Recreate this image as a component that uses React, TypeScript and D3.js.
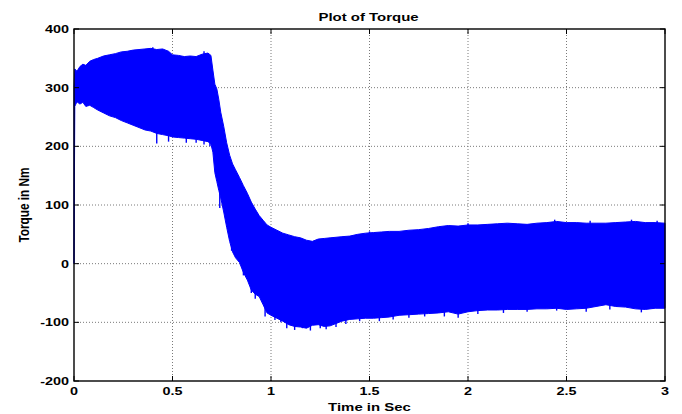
import React from "react";
import * as d3 from "d3";

const W = 682;
const H = 414;

const xTicks = [0, 0.5, 1, 1.5, 2, 2.5, 3];
const xTickLabels = ["0", "0.5", "1", "1.5", "2", "2.5", "3"];
const yTicks = [-200, -100, 0, 100, 200, 300, 400];
const yTickLabels = ["-200", "-100", "0", "100", "200", "300", "400"];

// envelope of the torque signal (s, Nm)
const time = [
  0, 0.004, 0.015, 0.03, 0.045, 0.06, 0.08, 0.1, 0.12, 0.15, 0.18, 0.21, 0.24, 0.27, 0.3, 0.33,
  0.36, 0.39, 0.42, 0.45, 0.48, 0.5, 0.53, 0.56, 0.59, 0.62, 0.65, 0.68, 0.695, 0.705, 0.715,
  0.725, 0.735, 0.745, 0.76, 0.775, 0.79, 0.805, 0.82, 0.84, 0.86, 0.88, 0.9, 0.92, 0.94, 0.96,
  0.98, 1.0, 1.03, 1.06, 1.09, 1.12, 1.15, 1.18, 1.21, 1.24, 1.27, 1.3, 1.33, 1.36, 1.4, 1.44,
  1.48, 1.52, 1.56, 1.6, 1.65, 1.7, 1.75, 1.8, 1.85, 1.9, 1.95, 2.0, 2.05, 2.1, 2.15, 2.2, 2.25,
  2.3, 2.35, 2.4, 2.45, 2.5, 2.55, 2.6, 2.65, 2.7, 2.75, 2.8, 2.85, 2.9, 2.95, 3.0,
];
const upper = [
  300, 332, 328, 336, 340, 338, 345, 348, 350, 354, 356, 358, 361, 362, 364, 365,
  366, 367, 365, 366, 362, 356, 355, 353, 354, 353, 357, 359, 355, 330, 306,
  298, 280, 258, 234, 206, 185, 170, 160, 147, 133, 120, 105, 93, 82, 74,
  66, 62, 57, 52, 49, 46, 44, 40, 38, 42, 43, 44, 45, 46, 47, 50,
  52, 53, 54, 55, 55, 57, 58, 60, 63, 65, 64, 66, 66, 67, 68, 69, 68,
  67, 69, 70, 72, 70, 70, 69, 69, 69, 70, 71, 72, 70, 70, 69,
];
const lower = [
  0, 268, 276, 272, 275, 268, 270, 266, 262, 257, 252, 249, 244, 240, 236, 232,
  228, 226, 222, 220, 218, 216, 215, 214, 213, 212, 210, 208, 204, 190, 155,
  140, 125, 112, 88, 62, 38, 20, 10, 2, -15, -28, -45, -52, -56, -70,
  -84, -88, -93, -98, -104, -107, -108, -110, -105, -104, -107, -106, -102, -98, -95, -94,
  -93, -93, -92, -91, -88, -87, -86, -85, -84, -82, -86, -82, -80, -79, -79, -78, -78,
  -78, -77, -77, -76, -78, -77, -76, -73, -70, -73, -74, -77, -78, -76, -76,
];

// isolated downward spikes (s, Nm)
const spikeTime = [
  0.42, 0.48, 0.57, 0.62, 0.66, 0.69, 0.74, 0.8, 0.86, 0.9, 0.92, 0.97, 1.02, 1.05, 1.08, 1.12,
  1.16, 1.2, 1.25, 1.28, 1.33, 1.38, 1.45, 1.55, 1.62, 1.7, 1.78, 1.88, 1.95, 2.05, 2.18, 2.3,
  2.45, 2.6, 2.72, 2.88,
];
const spikeValue = [
  205, 208, 206, 206, 203, 200, 95, 22, -20, -50, -60, -90, -96, -100, -110, -113,
  -110, -114, -110, -112, -108, -103, -98, -98, -95, -92, -90, -90, -92, -86, -84, -82,
  -80, -82, -78, -83,
];

// isolated upward spikes (s, Nm)
const peakTime = [0.4, 0.66, 1.5, 2.0, 2.44, 2.62, 2.83, 2.96];
const peakValue = [369, 362, 55, 69, 75, 73, 75, 73];

const M = { left: 74, right: 17, top: 29, bottom: 33 };
const FONT = "'Liberation Sans', Arial, Helvetica, sans-serif";
const SX = 1.31;

export default function App() {
  const x = d3.scaleLinear().domain([0, 3]).range([M.left, W - M.right]);
  const y = d3.scaleLinear().domain([-200, 400]).range([H - M.bottom, M.top]);

  const idx = d3.range(time.length);
  const area = d3
    .area<number>()
    .x((i) => x(time[i]))
    .y0((i) => y(lower[i]))
    .y1((i) => y(upper[i]))(idx) as string;

  const x0 = x(0), x1 = x(3), y0 = y(-200), y1 = y(400);
  const tick = 5;
  const blue = "#0000ff";

  return (
    <svg
      width={W}
      height={H}
      style={{ position: "absolute", left: 0, top: 0, background: "#fff" }}
    >
      <rect x={0} y={0} width={W} height={H} fill="#fff" />
      {/* grid */}
      <g stroke="#7a7a7a" strokeWidth={1} strokeDasharray="1,2">
        {xTicks.slice(1, -1).map((t) => (
          <line key={"gx" + t} x1={x(t)} x2={x(t)} y1={y1} y2={y0} />
        ))}
        {yTicks.slice(1, -1).map((t) => (
          <line key={"gy" + t} x1={x0} x2={x1} y1={y(t)} y2={y(t)} />
        ))}
      </g>
      {/* signal */}
      <path d={area} fill={blue} stroke={blue} strokeWidth={1} strokeLinejoin="round" />
      <g stroke={blue} strokeWidth={1.4}>
        {spikeTime.map((t, i) => (
          <line
            key={"sp" + i}
            x1={x(t)}
            x2={x(t)}
            y1={y(spikeValue[i])}
            y2={y(spikeValue[i] + 40)}
          />
        ))}
        {peakTime.map((t, i) => (
          <line
            key={"pk" + i}
            x1={x(t)}
            x2={x(t)}
            y1={y(peakValue[i])}
            y2={y(peakValue[i] - 30)}
          />
        ))}
      </g>
      {/* box and ticks */}
      <rect x={x0} y={y1} width={x1 - x0} height={y0 - y1} fill="none" stroke="#000" strokeWidth={1.4} />
      <g stroke="#000" strokeWidth={1}>
        {xTicks.map((t) => (
          <g key={"tx" + t}>
            <line x1={x(t)} x2={x(t)} y1={y0} y2={y0 - tick} />
            <line x1={x(t)} x2={x(t)} y1={y1} y2={y1 + tick} />
          </g>
        ))}
        {yTicks.map((t) => (
          <g key={"ty" + t}>
            <line x1={x0} x2={x0 + tick} y1={y(t)} y2={y(t)} />
            <line x1={x1} x2={x1 - tick} y1={y(t)} y2={y(t)} />
          </g>
        ))}
      </g>
      {/* tick labels */}
      <g fontFamily={FONT} fontWeight="bold" fontSize={11} fill="#000">
        {xTicks.map((t, i) => (
          <text
            key={"lx" + t}
            transform={`translate(${x(t)},${y0 + 14}) scale(${SX},1)`}
            textAnchor="middle"
          >
            {xTickLabels[i]}
          </text>
        ))}
        {yTicks.map((t, i) => (
          <text
            key={"ly" + t}
            transform={`translate(${x0 - 5},${y(t) + 4}) scale(${SX},1)`}
            textAnchor="end"
          >
            {yTickLabels[i]}
          </text>
        ))}
      </g>
      {/* titles */}
      <g fontFamily={FONT} fontWeight="bold" fill="#000">
        <text
          fontSize={11.5}
          transform={`translate(${(x0 + x1) / 2 - 1},20.5) scale(1.3,1)`}
          textAnchor="middle"
        >
          Plot of Torque
        </text>
        <text
          fontSize={11.5}
          transform={`translate(${(x0 + x1) / 2},410.5) scale(1.3,1)`}
          textAnchor="middle"
        >
          Time in Sec
        </text>
        <text
          fontSize={11.8}
          transform={`translate(29,${(y0 + y1) / 2}) rotate(-90) scale(1,1.3)`}
          textAnchor="middle"
        >
          Torque in Nm
        </text>
      </g>
    </svg>
  );
}
